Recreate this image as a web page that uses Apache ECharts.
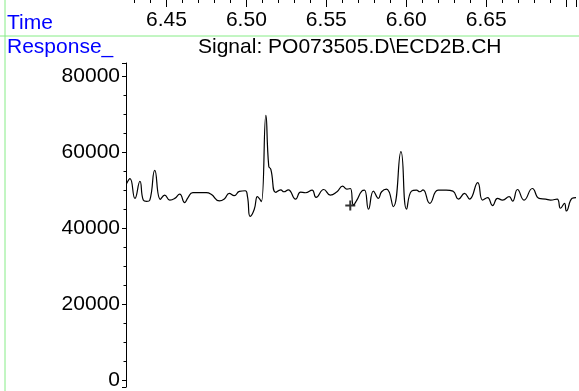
<!DOCTYPE html>
<html>
<head>
<meta charset="utf-8">
<script src="https://cdn.jsdelivr.net/npm/echarts@6/dist/echarts.min.js"></script>
<style>
  html, body { margin: 0; padding: 0; background: #fff; }
  #chart { width: 579px; height: 391px; }
</style>
</head>
<body>
<div id="chart"></div>
<script>
// retention time (min) and detector response
var times = [
  6.4251, 6.4272, 6.4303, 6.4334, 6.4355, 6.4376, 6.4396, 6.4427, 6.4462, 6.4489,
  6.4521, 6.4552, 6.4583, 6.4614, 6.4635, 6.4665, 6.4749, 6.4780, 6.4831, 6.4862,
  6.4893, 6.4924, 6.4956, 6.4993, 6.5007, 6.5024, 6.5049, 6.5069, 6.5080, 6.5094,
  6.5122, 6.5140, 6.5153, 6.5184, 6.5215, 6.5235, 6.5262, 6.5308, 6.5339, 6.5370,
  6.5411, 6.5436, 6.5484, 6.5525, 6.5567, 6.5602, 6.5629, 6.5650, 6.5670, 6.5691,
  6.5722, 6.5739, 6.5764, 6.5795, 6.5826, 6.5846, 6.5877, 6.5919, 6.5967, 6.6002,
  6.6033, 6.6064, 6.6085, 6.6105, 6.6147, 6.6199, 6.6250, 6.6292, 6.6327, 6.6365,
  6.6396, 6.6447, 6.6478, 6.6509, 6.6540, 6.6571, 6.6603, 6.6644, 6.6665, 6.6696,
  6.6737, 6.6789, 6.6831, 6.6872, 6.6903, 6.6944, 6.6965, 6.6990, 6.7002, 6.7038,
  6.7062
];
var response = [
  51840, 53140, 47940, 52440, 47490, 47160, 47490, 55300, 47700, 48800,
  47490, 47940, 49060, 46840, 48150, 49440, 49440, 49000, 47260, 47780,
  49240, 48650, 49760, 49940, 48380, 43180, 45000, 48380, 47940, 47080,
  69790, 56400, 55560, 49500, 50200, 49680, 50200, 47750, 49580, 49420,
  50100, 48200, 50280, 48800, 49680, 51140, 50360, 50540, 46190, 47490,
  49840, 50100, 45080, 49840, 47940, 49680, 50360, 45780, 60240, 45080,
  49840, 50100, 49680, 50200, 46640, 50100, 50100, 49840, 47750, 49240,
  47750, 52100, 47490, 48120, 46040, 47940, 47490, 48380, 47230, 50280,
  47490, 50540, 47940, 47750, 47490, 47750, 45340, 46640, 44630, 47940,
  48120
];
// cursor cross mark
var markTime = [6.5650];
var markResp = [46040];

var timeMin = 6.4247, timeMax = 6.7062;
var respMin = -1743, respMax = 83570;

var font = '"Liberation Sans", Arial, sans-serif';
var myChart = echarts.init(document.getElementById('chart'), null, { renderer: 'canvas' });

var trace = [];
for (var i = 0; i < times.length; i++) trace.push([times[i], response[i]]);
var marks = [];
for (var j = 0; j < markTime.length; j++) marks.push([markTime[j], markResp[j]]);

var option = {
    animation: false,
    backgroundColor: '#ffffff',
    grid: { left: 126, right: 0, top: 63, bottom: 0 },
    xAxis: {
        type: 'value',
        position: 'top',
        offset: 63,
        min: timeMin,
        max: timeMax,
        minInterval: 0.05,
        maxInterval: 0.05,
        axisLine: { show: false, onZero: false },
        axisTick: { show: true, inside: true, length: 7, lineStyle: { color: '#000', width: 1 } },
        minorTick: { show: true, splitNumber: 5, length: 3, lineStyle: { color: '#000', width: 1 } },
        axisLabel: {
            inside: true,
            margin: 10,
            color: '#000',
            fontFamily: font,
            fontSize: 21,
            formatter: function (v) {
                return (v > 6.449 && v < 6.66) ? v.toFixed(2) : '';
            }
        },
        splitLine: { show: false }
    },
    yAxis: {
        type: 'value',
        min: respMin,
        max: respMax,
        minInterval: 20000,
        maxInterval: 20000,
        axisLine: { show: true, onZero: false, lineStyle: { color: '#000', width: 1 } },
        axisTick: { show: true, length: 4, lineStyle: { color: '#000' } },
        minorTick: { show: true, splitNumber: 4, length: 2.5, lineStyle: { color: '#000' } },
        axisLabel: {
            margin: 6,
            color: '#000',
            fontFamily: font,
            fontSize: 21,
            formatter: function (v) {
                return (v >= 0 && Math.abs(v % 20000) < 1) ? String(v) : '';
            }
        },
        splitLine: { show: false }
    },
    graphic: [
        { type: 'line', silent: true, shape: { x1: 0, y1: 36, x2: 579, y2: 36 }, style: { stroke: '#86ec86', lineWidth: 1 } },
        { type: 'line', silent: true, shape: { x1: 5, y1: 0, x2: 5, y2: 391 }, style: { stroke: '#86ec86', lineWidth: 1 } },
        // hide the range-end tick that lands on the top-left corner
        { type: 'rect', silent: true, z: 100, shape: { x: 124, y: 0, width: 4, height: 9 }, style: { fill: '#fff' } },
        { type: 'text', left: 7, top: 13, style: { text: 'Time', fill: '#0000ff', font: '21px ' + font } },
        { type: 'text', left: 7, top: 37, style: { text: 'Response_', fill: '#0000ff', font: '21px ' + font } },
        { type: 'text', left: 198, top: 37, style: { text: 'Signal: PO073505.D\\ECD2B.CH', fill: '#000', font: '21px ' + font } }
    ],
    series: [{
        name: 'Signal',
        type: 'line',
        data: trace,
        smooth: 0.5,
        showSymbol: false,
        symbol: 'none',
        lineStyle: { color: '#000', width: 1.2 }
    }, {
        name: 'cursor',
        type: 'scatter',
        data: marks,
        symbol: 'path://M4,0H6V4H10V6H6V10H4V6H0V4H4Z',
        symbolSize: 10,
        itemStyle: { color: '#000' }
    }]
};
myChart.setOption(option);
</script>
</body>
</html>
